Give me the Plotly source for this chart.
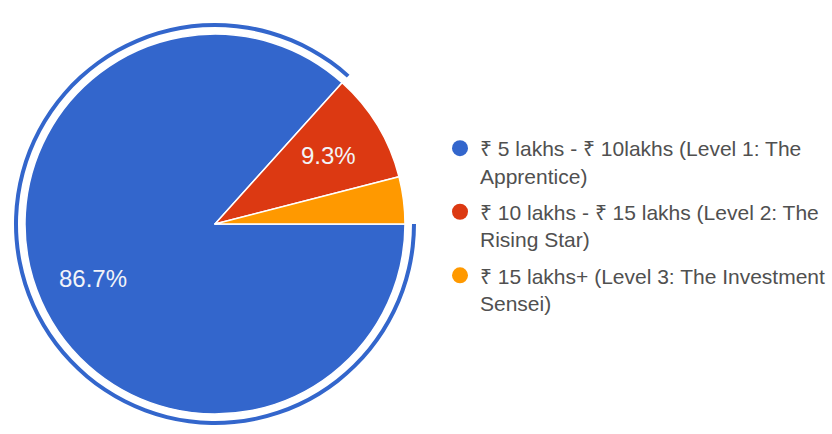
import math
import plotly.graph_objects as go

# Survey responses per income bracket
categories = [
    "₹ 5 lakhs - ₹ 10lakhs (Level 1: The<br>Apprentice)",
    "₹ 10 lakhs - ₹ 15 lakhs (Level 2: The<br>Rising Star)",
    "₹ 15 lakhs+ (Level 3: The Investment<br>Sensei)",
]
responses = [65, 7, 3]
colors = ["#3366CC", "#DC3912", "#FF9900"]

W, H = 832, 434
cx, cy, r = 215, 224, 190       # pie centre / radius in px
ring_out, ring_in = 201, 197    # highlight ring around first slice
start_deg = 90                  # first slice starts at 3 o'clock, clockwise


def dom(rad):
    return dict(
        x=[(cx - rad) / W, (cx + rad) / W],
        y=[(H - cy - rad) / H, (H - cy + rad) / H],
    )


fig = go.Figure()

# highlight ring around the selected (first) slice
fig.add_trace(go.Pie(
    values=responses,
    labels=categories,
    domain=dom(ring_out),
    hole=ring_in / ring_out,
    sort=False,
    direction="clockwise",
    rotation=start_deg,
    marker=dict(colors=[colors[0], "rgba(0,0,0,0)", "rgba(0,0,0,0)"],
                line=dict(width=0)),
    textinfo="none",
    hoverinfo="skip",
    showlegend=False,
))

# main pie
fig.add_trace(go.Pie(
    values=responses,
    labels=categories,
    domain=dom(r),
    sort=False,
    direction="clockwise",
    rotation=start_deg,
    marker=dict(colors=colors, line=dict(color="white", width=1.5)),
    textinfo="none",
    showlegend=False,
))

# percentage labels placed along each slice's mid angle (small slices unlabeled)
total = sum(responses)
acc = 0
for v in responses:
    share = v / total
    mid = math.radians(start_deg + 360 * (acc + v / 2) / total)
    acc += v
    if share < 0.05:
        continue
    rr = 0.7 * r
    fig.add_annotation(
        x=(cx + rr * math.sin(mid)) / W,
        y=(H - cy + rr * math.cos(mid)) / H,
        xref="paper", yref="paper",
        xanchor="center", yanchor="middle",
        text=f"{share * 100:.1f}%", showarrow=False,
        font=dict(color="#F2F4F8", size=24, family="Liberation Sans, Arial"),
    )

# legend entries with round markers
for i, (name, col) in enumerate(zip(categories, colors)):
    fig.add_trace(go.Scatter(
        x=[None], y=[None], mode="markers", name=name,
        legendgroup=f"g{i}",
        marker=dict(symbol="circle", size=20, color=col),
        showlegend=True,
    ))

fig.update_layout(
    width=W, height=H,
    margin=dict(l=0, r=0, t=0, b=0),
    paper_bgcolor="white",
    plot_bgcolor="white",
    xaxis=dict(visible=False),
    yaxis=dict(visible=False),
    legend=dict(
        x=440 / W, y=(H - 128) / H,
        xanchor="left", yanchor="top",
        font=dict(family="Liberation Sans, Arial", size=21, color="#505050"),
        valign="top",
        tracegroupgap=6,
        bgcolor="rgba(0,0,0,0)",
    ),
)

fig.write_html("out.html")
